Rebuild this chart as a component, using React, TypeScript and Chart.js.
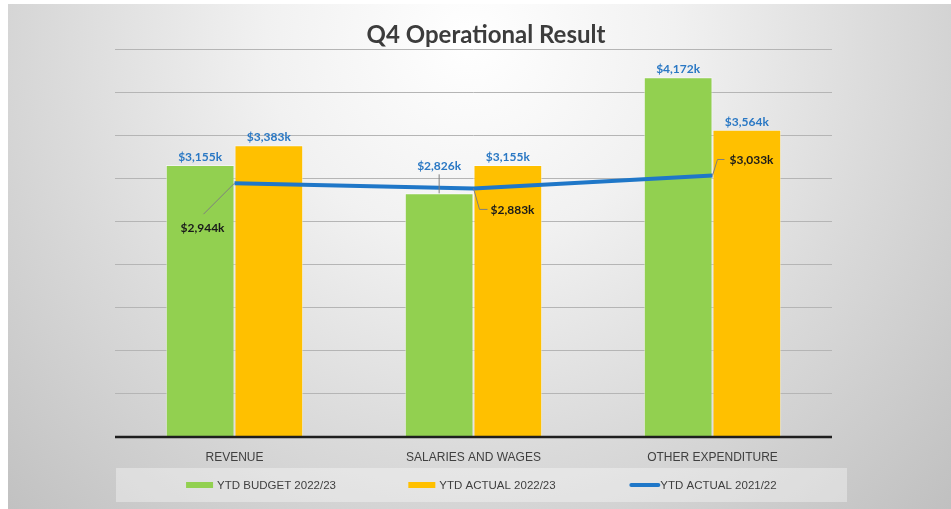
import React, { useEffect, useRef } from "react";
import { Chart, registerables } from "chart.js";

Chart.register(...registerables);

const categories = ["REVENUE", "SALARIES AND WAGES", "OTHER EXPENDITURE"];
const budget2223 = [3155, 2826, 4172];
const actual2223 = [3383, 3155, 3564];
const actual2122 = [2944, 2883, 3033];
const seriesNames = ["YTD BUDGET 2022/23", "YTD ACTUAL 2022/23", "YTD ACTUAL 2021/22"];
const yMin = 0;
const yMax = 4500;
const yStep = 500;

const GREEN = "#92D050";
const YELLOW = "#FFC000";
const LINE_BLUE = "#1F77C8";
const LABEL_BLUE = "#2A78C4";
const W = 951;
const H = 509;

const fmt = (v: number) => "$" + v.toLocaleString("en-US") + "k";

const bgPlugin = {
  id: "bg",
  beforeDraw(chart: any) {
    const ctx = chart.ctx;
    ctx.save();
    ctx.fillStyle = "#ffffff";
    ctx.fillRect(0, 0, W, H);
    const g = ctx.createRadialGradient(470, 40, 0, 470, 40, 680);
    g.addColorStop(0, "#ffffff");
    g.addColorStop(0.3, "#f1f1f1");
    g.addColorStop(0.6, "#dbdbdb");
    g.addColorStop(1, "#bfbfbf");
    ctx.fillStyle = g;
    ctx.fillRect(8, 4, W - 8, H - 4);
    // title
    ctx.fillStyle = "#3c3c3c";
    ctx.font = "bold 24px Lato, 'Open Sans', sans-serif";
    ctx.textAlign = "center";
    ctx.textBaseline = "middle";
    ctx.fillText("Q4 Operational Result", 486, 35);
    // legend box
    ctx.fillStyle = "rgba(255,255,255,0.35)";
    ctx.fillRect(116, 468, 731, 34);
    ctx.font = "11.5px 'Liberation Sans', Arial, sans-serif";
    ctx.textAlign = "left";
    const boxCenter = 482;
    const spacing = 221;
    const sw = 27;
    seriesNames.forEach((name, i) => {
      const tw = ctx.measureText(name).width;
      const total = sw + 4 + tw;
      const cx = boxCenter + (i - 1) * spacing;
      const x0 = cx - total / 2;
      const y = 485;
      if (i < 2) {
        ctx.fillStyle = i === 0 ? GREEN : YELLOW;
        ctx.fillRect(x0, y - 3, sw, 6);
      } else {
        ctx.strokeStyle = LINE_BLUE;
        ctx.lineWidth = 4;
        ctx.lineCap = "round";
        ctx.beginPath();
        ctx.moveTo(x0 + 2, y);
        ctx.lineTo(x0 + sw + 2, y);
        ctx.stroke();
      }
      ctx.fillStyle = "#404040";
      ctx.fillText(name, x0 + sw + 4, y + 1);
    });
    ctx.restore();
  },
};

const labelPlugin = {
  id: "labels",
  afterDatasetsDraw(chart: any) {
    const ctx = chart.ctx;
    const area = chart.chartArea;
    ctx.save();
    // baseline
    const yScale = chart.scales.y;
    const by = yScale.getPixelForValue(0);
    ctx.strokeStyle = "#1e1e1e";
    ctx.lineWidth = 2.5;
    ctx.beginPath();
    ctx.moveTo(area.left, by);
    ctx.lineTo(area.right, by);
    ctx.stroke();

    ctx.font = "bold 12px Lato, 'Open Sans', sans-serif";
    ctx.textBaseline = "middle";
    // bar labels
    [0, 1].forEach((di) => {
      const meta = chart.getDatasetMeta(di);
      const data = chart.data.datasets[di].data as number[];
      meta.data.forEach((el: any, i: number) => {
        ctx.fillStyle = LABEL_BLUE;
        ctx.textAlign = "center";
        if (di === 0 && i === 1) {
          const ly = el.y - 27;
          ctx.fillText(fmt(data[i]), el.x, ly);
          ctx.strokeStyle = "#7f7f7f";
          ctx.lineWidth = 1;
          ctx.beginPath();
          ctx.moveTo(el.x, ly + 8);
          ctx.lineTo(el.x, el.y);
          ctx.stroke();
        } else {
          ctx.fillText(fmt(data[i]), el.x, el.y - 8);
        }
      });
    });
    // line labels
    const lmeta = chart.getDatasetMeta(2);
    const ldata = chart.data.datasets[2].data as number[];
    const place = [
      { leader: [[-31, 31]], tx: -32, ty: 45, align: "center" },
      { leader: [[6, 21], [14, 21]], tx: 17, ty: 22, align: "left" },
      { leader: [[5, -16], [12, -16]], tx: 17, ty: -15, align: "left" },
    ];
    lmeta.data.forEach((el: any, i: number) => {
      const p = place[i];
      ctx.strokeStyle = "#7f7f7f";
      ctx.lineWidth = 1;
      ctx.beginPath();
      ctx.moveTo(el.x, el.y);
      p.leader.forEach(([dx, dy]) => ctx.lineTo(el.x + dx, el.y + dy));
      ctx.stroke();
      ctx.fillStyle = "#1a1a1a";
      ctx.textAlign = p.align as CanvasTextAlign;
      ctx.fillText(fmt(ldata[i]), el.x + p.tx, el.y + p.ty);
    });
    ctx.restore();
  },
};

export default function App() {
  const ref = useRef<HTMLCanvasElement | null>(null);
  useEffect(() => {
    if (!ref.current) return;
    const chart = new Chart(ref.current, {
      type: "bar",
      data: {
        labels: categories,
        datasets: [
          {
            type: "bar",
            label: seriesNames[0],
            data: budget2223,
            backgroundColor: GREEN,
            borderColor: "rgba(255,255,255,0.5)",
            borderWidth: 1,
            categoryPercentage: 0.575,
            barPercentage: 1,
            order: 2,
          },
          {
            type: "bar",
            label: seriesNames[1],
            data: actual2223,
            backgroundColor: YELLOW,
            borderColor: "rgba(255,255,255,0.5)",
            borderWidth: 1,
            categoryPercentage: 0.575,
            barPercentage: 1,
            order: 2,
          },
          {
            type: "line",
            label: seriesNames[2],
            data: actual2122,
            borderColor: LINE_BLUE,
            borderWidth: 4,
            pointRadius: 0,
            tension: 0,
            order: 0,
          } as any,
        ],
      },
      options: {
        responsive: false,
        animation: false,
        devicePixelRatio: 1,
        layout: { padding: { left: 115, right: 119, top: 49, bottom: 0 } },
        plugins: {
          legend: { display: false },
          title: { display: false },
          tooltip: { enabled: false },
        },
        scales: {
          x: {
            grid: { display: false, drawTicks: false },
            border: { display: false },
            ticks: {
              color: "#404040",
              font: { family: "'Liberation Sans', Arial, sans-serif", size: 12 },
              padding: 13,
              maxRotation: 0,
            },
            afterFit: (s: any) => {
              s.height = 72;
            },
          },
          y: {
            min: yMin,
            max: yMax,
            ticks: { stepSize: yStep, display: false },
            grid: { color: "#b5b5b5", lineWidth: 1, drawTicks: false },
            border: { display: false },
            afterFit: (s: any) => {
              s.width = 0;
            },
          },
        },
      },
      plugins: [bgPlugin, labelPlugin],
    });
    return () => chart.destroy();
  }, []);
  return (
    <div style={{ position: "absolute", left: 0, top: 0, width: W, height: H }}>
      <canvas ref={ref} width={W} height={H} style={{ display: "block" }} />
    </div>
  );
}
